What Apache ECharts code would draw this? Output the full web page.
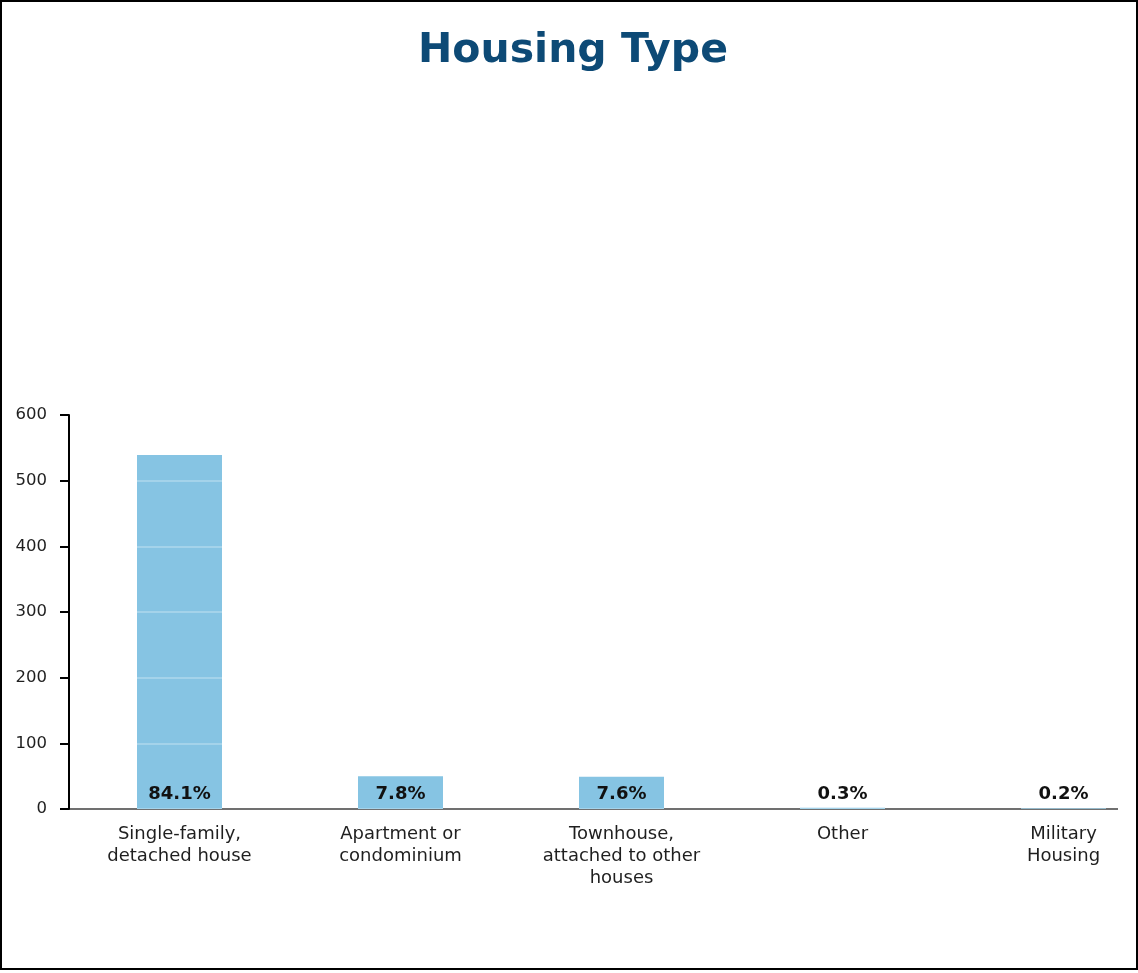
<!DOCTYPE html>
<html>
<head>
<meta charset="utf-8">
<script src="https://cdn.jsdelivr.net/npm/echarts@6/dist/echarts.min.js"></script>
<style>
  html, body { margin: 0; padding: 0; background: #fff; }
  #frame { position: absolute; left: 0; top: 0; width: 1134px; height: 966px; border: 2px solid #000; background: #fff; overflow: hidden; }
  #chart { width: 1190px; height: 966px; }
</style>
</head>
<body>
<div id="frame"><div id="chart"></div></div>
<script>
const titleText = 'Housing Type';
const categories = [
  'Single-family,\ndetached house',
  'Apartment or\ncondominium',
  'Townhouse,\nattached to other\nhouses',
  'Other',
  'Military\nHousing'
];
const counts = [539, 50, 49, 2, 1];
const percentLabels = ['84.1%', '7.8%', '7.6%', '0.3%', '0.2%'];
const yMin = 0;
const yMax = 600;
const yInterval = 100;

const FONT = 'DejaVu Sans';
const chart = echarts.init(document.getElementById('chart'), null, { renderer: 'canvas' });

const gridTop = 413;
const gridBottom = 159;

chart.setOption({
  animation: false,
  backgroundColor: '#fff',
  title: {
    text: titleText,
    left: 566,
    textAlign: 'center',
    top: 24,
    textStyle: { fontFamily: FONT, fontSize: 41, fontWeight: 'bold', color: '#0D4A76' }
  },
  grid: [
    { left: 67, right: 1190 - 1115, top: gridTop, bottom: gridBottom },
    { left: 67, width: 1105, top: gridTop, bottom: gridBottom }
  ],
  xAxis: [
    {
      gridIndex: 0, type: 'value', min: 0, max: 1,
      axisLine: { show: true, lineStyle: { color: '#404040', width: 2 } },
      axisTick: { show: false }, axisLabel: { show: false }, splitLine: { show: false }
    },
    {
      gridIndex: 1, type: 'category', data: categories,
      axisLine: { show: false }, axisTick: { show: false },
      axisLabel: {
        fontFamily: FONT, fontSize: 18, color: '#1f1f1f', lineHeight: 22, margin: 14, interval: 0
      }
    }
  ],
  yAxis: [
    {
      gridIndex: 0, type: 'value', min: yMin, max: yMax, interval: yInterval, z: 5,
      axisLine: { show: true, lineStyle: { color: '#000', width: 2 } },
      axisTick: { show: true, length: 9, lineStyle: { color: '#000', width: 2 } },
      axisLabel: { fontFamily: FONT, fontSize: 16.5, color: '#1f1f1f', margin: 22 },
      splitLine: { show: true, lineStyle: { color: 'rgba(255,255,255,0.25)', width: 2 } }
    },
    {
      gridIndex: 1, type: 'value', min: yMin, max: yMax, interval: yInterval, show: false,
      splitLine: { show: false }
    }
  ],
  series: [
    {
      type: 'bar',
      xAxisIndex: 1, yAxisIndex: 1,
      data: counts,
      barWidth: 85,
      itemStyle: { color: '#86C4E3' },
      label: {
        show: true,
        position: 'insideBottom',
        distance: 6,
        formatter: p => percentLabels[p.dataIndex],
        fontFamily: FONT, fontSize: 18, fontWeight: 'bold', color: '#111'
      }
    }
  ]
});
</script>
</body>
</html>
